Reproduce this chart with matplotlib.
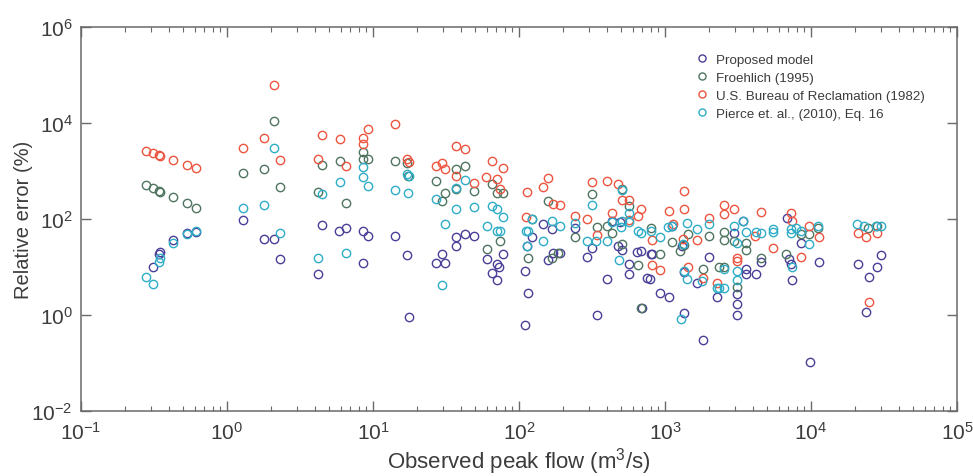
import matplotlib
matplotlib.use("Agg")
import matplotlib.pyplot as plt
from matplotlib.ticker import LogLocator, NullLocator, FixedLocator

# ---------------- data ----------------
proposed_x = [0.31, 0.34, 0.35, 0.43, 0.53, 0.61, 1.29, 1.80, 2.10, 2.31, 4.22, 4.45,
              5.88, 6.50, 8.6, 9.3, 8.6, 14.2, 17.1, 17.6, 26.9, 29.7, 31.3, 37, 37,
              42.7, 49.2, 60, 65.6, 71, 73, 71, 78, 110, 116, 110, 113, 122, 145, 157,
              167, 172, 191, 242, 291, 315, 340, 403, 436, 480, 495, 510, 567, 567, 640,
              682, 692, 750, 790, 800, 820, 930, 1060, 1120, 1300, 1340, 1350, 1650,
              1810, 2000, 2280, 2970, 3100, 3100, 3100, 3440, 3560, 3590, 4170, 4520,
              6820, 7060, 7300, 7380, 8500, 9800, 11300, 21000, 25100, 23800, 28200, 30000]
proposed_y = [10.2, 18.4, 20.5, 36, 50, 53, 94, 38, 38, 14.5, 7.0, 76,
              55, 66, 56.8, 45, 12.4, 44, 18, 0.90, 12.4, 19, 12.4, 42, 28,
              48, 45, 14.5, 7.4, 11.4, 10.2, 5.4, 19, 8.4, 2.9, 0.63, 27, 43, 78, 14,
              61, 20, 19.5, 64, 16.5, 24.5, 1.0, 5.6, 91, 27, 88, 23, 11.4, 7.0, 20.5,
              22, 1.4, 5.8, 5.7, 19, 18.4, 2.9, 2.4, 71, 27, 1.1, 7.8, 4.7,
              0.30, 16.5, 2.4, 52, 2.7, 1.7, 1.02, 89, 7.0, 9.3, 7.2, 12.8,
              105, 15, 11.6, 5.3, 32, 0.105, 13, 11.6, 6.3, 1.18, 10, 17.6]

froehlich_x = [0.28, 0.31, 0.34, 0.35, 0.43, 0.53, 0.61, 1.29, 1.80, 2.10, 2.31, 4.45,
               4.2, 5.9, 6.5, 8.6, 8.6, 9.3, 14.2, 17.2, 17.5, 26.9, 29.7, 31.3, 37, 37,
               42.7, 49.2, 60, 65.6, 71, 78, 74, 116, 122, 157, 168, 185, 242, 315, 340,
               403, 436, 510, 567, 510, 650, 682, 800, 925, 1120, 1260, 1340, 1440, 1810,
               2000, 2340, 2520, 2540, 2970, 3100, 3590, 3590, 4520, 6700, 8500, 9700,
               11200, 24700, 28200, 2520]
froehlich_y = [500, 443, 383, 365, 283, 215, 170, 895, 1080, 10800, 460, 1330,
               370, 1600, 220, 2490, 1740, 1740, 1620, 1450, 790, 620, 234, 355, 1080, 430,
               1270, 383, 24, 546, 355, 355, 35, 15.5, 99, 233, 15.3, 19.3, 43, 338, 68,
               73, 52, 430, 186, 30, 11, 1.38, 64, 19, 33, 22, 29, 48, 9.3,
               44, 9.8, 54, 36, 35, 3.9, 32, 23, 15.7, 19, 48, 48,
               66, 66, 71, 9.8]

usbr_x = [0.28, 0.31, 0.34, 0.35, 0.43, 0.53, 0.61, 1.29, 1.80, 2.10, 2.31, 4.22, 4.45,
          5.9, 6.5, 8.6, 8.6, 9.3, 14.2, 17.0, 17.6, 26.9, 29.7, 31.3, 37, 42.7, 37,
          49.2, 59, 65.6, 71, 74, 78, 111, 113, 145, 157, 172, 191, 242, 291, 315, 340,
          403, 436, 480, 510, 567, 570, 656, 682, 811, 811, 930, 1060, 1130, 1320, 1350,
          1350, 1440, 1650, 1810, 2000, 2280, 2520, 2540, 2970, 3100, 3100, 4150, 4520,
          5490, 7240, 7400, 8500, 9730, 11300, 21000, 23700, 28200, 25100]
usbr_y = [2610, 2340, 2120, 2050, 1690, 1330, 1130, 3070, 4960, 61900, 1690, 1740, 5540,
          4730, 1270, 4800, 3720, 7640, 9720, 1810, 1540, 1270, 1450, 1080, 3320, 2830, 787,
          570, 740, 1620, 671, 430, 1140, 110, 365, 464, 705, 210, 193, 115, 99, 590, 46,
          619, 136, 546, 250, 250, 97, 118, 160, 36, 10.8, 8.5, 150, 80, 38, 390,
          160, 10.2, 36, 6.0, 105, 4.7, 193, 126, 160, 15.7, 13.2, 44, 140,
          24.5, 133, 91, 16.3, 71, 42, 50, 43, 50, 1.9]

pierce_x = [0.28, 0.31, 0.34, 0.35, 0.43, 0.53, 0.61, 1.29, 1.80, 2.10, 2.31, 4.22, 4.45,
            5.9, 6.5, 8.6, 8.6, 9.3, 14.2, 17.0, 17.6, 17.5, 26.9, 29.7, 31.3, 37, 37,
            42.7, 49.2, 60, 65.6, 71, 78, 71, 74, 111, 116, 113, 122, 145, 169, 191, 242,
            291, 315, 338, 400, 436, 484, 500, 510, 510, 567, 567, 650, 682, 800, 925,
            1050, 1120, 1280, 1320, 1340, 1420, 1420, 1650, 1800, 2000, 2280, 2340, 2540,
            2520, 2970, 3100, 3100, 3100, 3440, 3590, 4170, 4520, 5470, 5470, 7240, 7240,
            7380, 7850, 8550, 9700, 11200, 20600, 23200, 27700, 30100]
pierce_y = [6.3, 4.4, 13, 15.7, 32, 48, 55, 169, 196, 3070, 50, 15.7, 335,
            600, 19.3, 1240, 764, 480, 406, 885, 787, 355, 260, 4.2, 80, 440, 164,
            650, 177, 73, 186, 158, 110, 57, 57, 57, 57, 27, 100, 35, 91, 72, 81,
            35, 193, 35, 35, 88, 14, 67, 93, 405, 136, 85, 57, 52, 57, 42,
            68, 71, 0.82, 30, 8.3, 81, 5.7, 61, 5.1, 78, 3.6, 3.6, 3.6,
            9.3, 71, 32, 8.3, 5.4, 91, 53, 53, 52, 63, 53, 61, 52,
            10.2, 66, 56, 30, 73, 78, 70, 73, 73]

series_labels = ["Proposed model", "Froehlich (1995)",
                 "U.S. Bureau of Reclamation (1982)", "Pierce et. al., (2010), Eq. 16"]
x_label = "Observed peak flow (m$^3$/s)"
y_label = "Relative error (%)"

# ---------------- style ----------------
plt.rcParams["font.family"] = ["Liberation Sans", "DejaVu Sans"]
plt.rcParams["mathtext.fontset"] = "custom"
plt.rcParams["mathtext.rm"] = "Liberation Sans"
plt.rcParams["mathtext.it"] = "Liberation Sans"
plt.rcParams["axes.unicode_minus"] = False

colors = ["#4a3f98", "#4f7560", "#ec5540", "#2fadc6"]
text_color = "#3c3c3c"
spine_color = "#6a6a6a"

fig = plt.figure(figsize=(9.73, 4.77), dpi=100)
ax = fig.add_axes([81 / 973, 1 - 412 / 477, (957 - 81) / 973, (412 - 28) / 477])

data = [(proposed_x, proposed_y), (froehlich_x, froehlich_y),
        (usbr_x, usbr_y), (pierce_x, pierce_y)]
for (xs, ys), c, lab in zip(data, colors, series_labels):
    ax.plot(xs, ys, linestyle="none", marker="o", ms=6.0, mfc="none",
            mec=c, mew=1.0, label=lab)

ax.set_xscale("log")
ax.set_yscale("log")
ax.set_xlim(1e-1, 1e5)
ax.set_ylim(1e-2, 1e6)
ax.yaxis.set_major_locator(FixedLocator([1e-2, 1e0, 1e2, 1e4, 1e6]))
ax.yaxis.set_minor_locator(NullLocator())
ax.xaxis.set_major_locator(FixedLocator([1e-1, 1e0, 1e1, 1e2, 1e3, 1e4, 1e5]))
ax.xaxis.set_minor_locator(LogLocator(base=10, subs=range(2, 10), numticks=20))

for s in ax.spines.values():
    s.set_color(spine_color)
    s.set_linewidth(1.1)

ax.tick_params(which="both", direction="in", top=True, right=True,
               colors=spine_color, labelcolor=text_color)
ax.tick_params(which="major", length=7, width=1.0, labelsize=15, pad=7)
ax.tick_params(which="minor", length=3.5, width=0.8)
ax.tick_params(axis="y", which="major", pad=6)

ax.set_xlabel(x_label, fontsize=16, color=text_color, labelpad=2)
ax.set_ylabel(y_label, fontsize=14.5, color=text_color)
ax.yaxis.set_label_coords(-0.055, 0.5)

leg = ax.legend(loc="upper left", bbox_to_anchor=(0.695, 0.945), frameon=False,
                fontsize=9.6, handletextpad=0.6, labelspacing=0.42,
                handlelength=1.0, borderaxespad=0, markerscale=0.85)
for t in leg.get_texts():
    t.set_color(text_color)

fig.savefig("out.png", dpi=100)
